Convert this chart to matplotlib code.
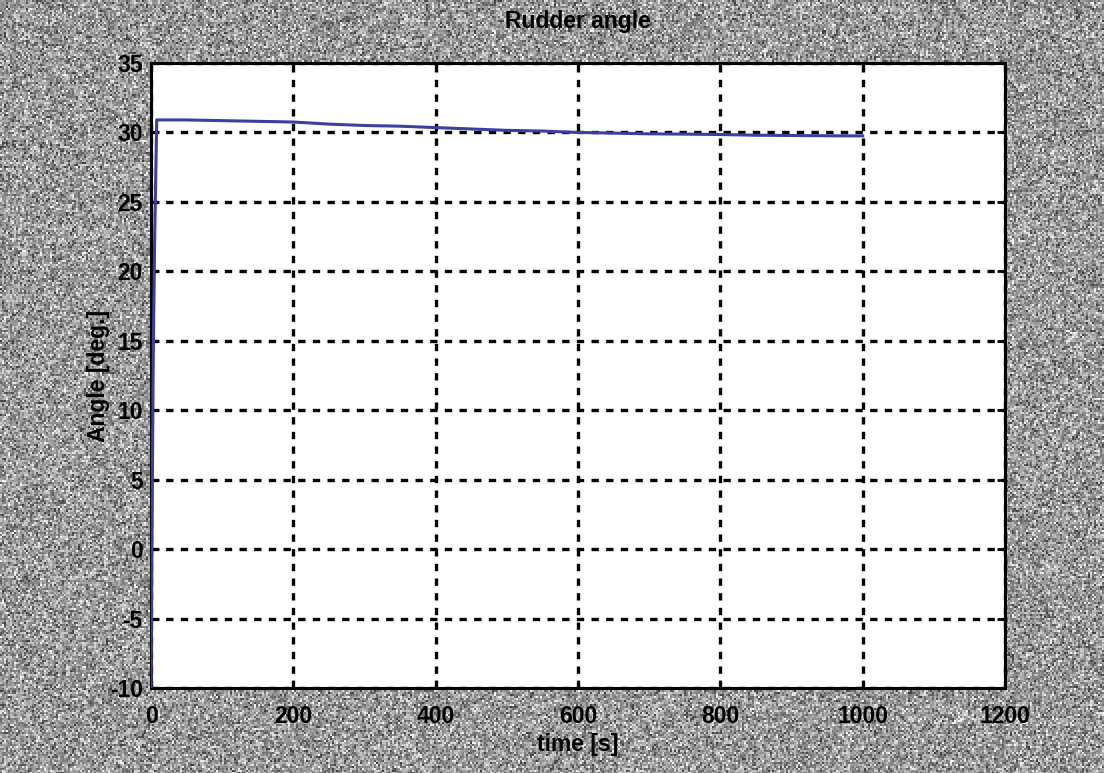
import numpy as np
import matplotlib
matplotlib.use("Agg")
import matplotlib.pyplot as plt

# Rudder angle time history
time_s = [0, 1, 3, 5, 8, 50, 100, 150, 200, 250, 300, 350, 400, 450, 500,
          550, 600, 650, 700, 750, 800, 850, 900, 950, 1000]
angle_deg = [-10.0, -2.0, 13.0, 22.0, 30.9, 30.9, 30.85, 30.8, 30.75, 30.6, 30.5,
             30.45, 30.35, 30.25, 30.15, 30.1, 30.0, 29.95, 29.9, 29.88, 29.85,
             29.8, 29.78, 29.76, 29.75]

x_ticks = [0, 200, 400, 600, 800, 1000, 1200]
y_ticks = [-10, -5, 0, 5, 10, 15, 20, 25, 30, 35]

plt.rcParams['font.family'] = ['Liberation Sans', 'DejaVu Sans']

fig = plt.figure(figsize=(11.04, 7.73), dpi=100)
bg = '#9c9c9c'
fig.patch.set_facecolor(bg)

# stippled paper texture behind everything (coarse grain)
rng = np.random.default_rng(7)
small = 0.60 + 0.16 * rng.standard_normal((387, 552))
tex = np.kron(small, np.ones((2, 2)))[:773, :1104]
tex = np.clip(tex, 0.25, 0.95)
fig.figimage(tex, cmap='gray', vmin=0, vmax=1, zorder=-10)

ax = fig.add_axes([0.1368, 0.110, 0.7735, 0.8085])
ax.set_facecolor('white')

ax.plot(time_s, angle_deg, color='#3b3f9e', lw=2.2, zorder=3)

ax.set_xlim(0, 1200)
ax.set_ylim(-10, 35)
ax.set_xticks(x_ticks)
ax.set_yticks(y_ticks)
ax.set_xticklabels([str(v) for v in x_ticks])
ax.set_yticklabels([str(v) for v in y_ticks])

ax.grid(True, color='black', linestyle=(0, (2.2, 2.2)), linewidth=2.4)
ax.set_axisbelow(False)

for s in ax.spines.values():
    s.set_linewidth(2.2)
    s.set_color('black')

ax.tick_params(direction='in', length=6, width=2, labelsize=16.5,
               top=True, right=True)
ax.tick_params(axis='x', pad=12)
ax.tick_params(axis='y', pad=6)
for lab in ax.get_xticklabels() + ax.get_yticklabels():
    lab.set_fontweight('bold')

ax.set_title('Rudder angle', fontsize=16.5, fontweight='bold', pad=25)
ax.set_xlabel('time [s]', fontsize=16.5, fontweight='bold', labelpad=4)
ax.set_ylabel('Angle [deg.]', fontsize=16.5, fontweight='bold', labelpad=0)

fig.savefig('out.png', dpi=100, facecolor=fig.get_facecolor())
